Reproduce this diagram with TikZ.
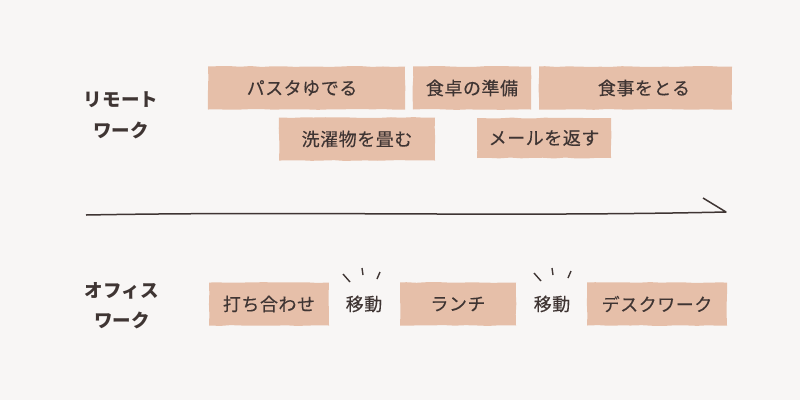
\documentclass[tikz,border=0pt]{standalone}
\usepackage{fontspec}
\setmainfont{Noto Sans CJK JP}
\newfontfamily\taskfont[FakeBold=0.25, LetterSpace=3]{Noto Sans CJK JP}
\newfontfamily\sidefont[LetterSpace=1]{Noto Sans CJK JP}
\usetikzlibrary{decorations.pathmorphing}
\definecolor{paper}{HTML}{F8F6F5}
\definecolor{tape}{HTML}{E6BFA9}
\definecolor{ink}{HTML}{3F3533}
\tikzset{
    taskbox/.style={fill=tape, inner sep=0pt, minimum height=43pt, text=ink,
        font=\fontsize{18}{20}\taskfont,
        decorate, decoration={random steps, segment length=11pt, amplitude=0.45pt}},
    tasktext/.style={inner sep=0pt, text=ink, font=\fontsize{18}{20}\taskfont},
    sidetext/.style={inner sep=0pt, text=ink, font=\fontsize{18.5}{20}\sidefont\bfseries},
    tick/.style={draw=ink, line width=1.4pt}
}
\begin{document}
\begin{tikzpicture}[x=1pt, y=-1pt]
    \pgfmathsetseed{7}
    \useasboundingbox[fill=paper] (0,0) rectangle (800,400);

    \node[sidetext] (remote1) at (121,100) {リモート};
    \node[sidetext] (remote2) at (121,130) {ワーク};
    \node[sidetext] (office1) at (122,291) {オフィス};
    \node[sidetext] (office2) at (122,320) {ワーク};

    \node[taskbox, minimum width=197pt] (pasta) at (306.5,88) {};
    \node[tasktext] (pastatext) at (302,88) {パスタゆでる};
    \node[taskbox, minimum width=118pt] (table) at (472,88) {食卓の準備};
    \node[taskbox, minimum width=193pt] (meal) at (635.5,88) {};
    \node[tasktext] (mealtext) at (644,88) {食事をとる};
    \node[taskbox, minimum width=156pt] (laundry) at (357,139) {洗濯物を畳む};
    \node[taskbox, minimum width=134pt, minimum height=40pt] (mail) at (544,138) {メールを返す};

    \node[taskbox, minimum width=120pt] (meeting) at (269,304) {打ち合わせ};
    \node[taskbox, minimum width=116pt] (lunch) at (458,304) {ランチ};
    \node[taskbox, minimum width=140pt] (desk) at (657,304) {デスクワーク};
    \node[tasktext] (move1) at (364,304) {移動};
    \node[tasktext] (move2) at (552,304) {移動};

    \coordinate (timestart) at (86,215);
    \coordinate (timeend) at (726,212);
    \coordinate (timehead) at (703,198);
    \draw[ink, line width=1.5pt, line join=round]
        (timestart) .. controls (300,211) and (500,217) .. (timeend) -- (timehead);

    \draw[tick] (343,274) -- (350,282);
    \draw[tick] (362,268) -- (363,275);
    \draw[tick] (380,272) -- (377,279);
    \draw[tick] (534,273) -- (541,281);
    \draw[tick] (552,268) -- (553,275);
    \draw[tick] (571,271) -- (568,278);
\end{tikzpicture}
\end{document}
